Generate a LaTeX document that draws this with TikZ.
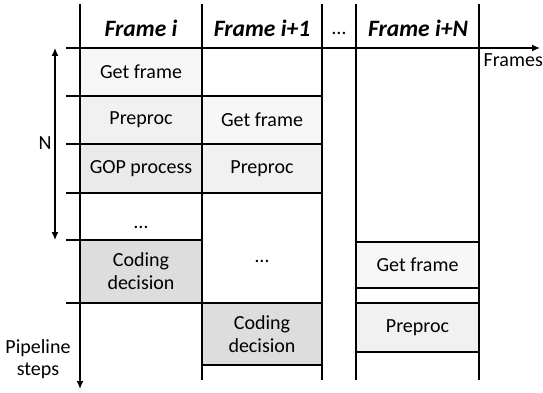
\documentclass[tikz,border=0pt]{standalone}
\usepackage{fontspec}
\setmainfont{Carlito}
\usetikzlibrary{arrows.meta}
\definecolor{getc}{HTML}{F7F7F7}
\definecolor{prec}{HTML}{F1F1F1}
\definecolor{gopc}{HTML}{EAEAEA}
\definecolor{codc}{HTML}{DDDDDD}
\tikzset{
  lin/.style={black,line width=1.4pt},
  ax/.style={-{Latex[length=8pt,width=7pt]},black,line width=1.4pt},
  dax/.style={{Latex[length=8pt,width=7pt]}-{Latex[length=8pt,width=7pt]},black,line width=1.2pt},
  stepbox/.style={inner sep=0pt,draw=none,align=center,font=\fontsize{20}{23}\selectfont},
  head/.style={inner sep=0pt,font=\fontsize{23.5}{26}\selectfont\bfseries\itshape},
  lab/.style={inner sep=0pt,align=center,font=\fontsize{20}{22}\selectfont},
}

\begin{document}
\begin{tikzpicture}[x=1pt,y=-1pt]
  \useasboundingbox (0,0) rectangle (543,393);
  % cells
  \node[stepbox,fill=getc,minimum width=122pt,minimum height=48pt] (get1) at (141,72) {Get frame};
  \node[stepbox,fill=prec,minimum width=122pt,minimum height=48pt] (pre1) at (141,120) {Preproc};
  \node[stepbox,fill=gopc,minimum width=122pt,minimum height=49pt] (gop1) at (141,168.5) {GOP process};
  \node[stepbox] (dots1) at (141,227) {…};
  \node[stepbox,fill=codc,minimum width=122pt,minimum height=63pt] (cod1) at (141,271.5) {Coding\\decision};
  \node[stepbox,fill=getc,minimum width=120pt,minimum height=48pt] (get2) at (262,120) {Get frame};
  \node[stepbox,fill=prec,minimum width=120pt,minimum height=49pt] (pre2) at (262,168.5) {Preproc};
  \node[stepbox] (dots2) at (262,261) {…};
  \node[stepbox,fill=codc,minimum width=120pt,minimum height=62pt] (cod2) at (262,334) {Coding\\decision};
  \node[stepbox,fill=getc,minimum width=123pt,minimum height=46pt] (getN) at (417.5,265) {Get frame};
  \node[stepbox,fill=prec,minimum width=123pt,minimum height=49pt] (preN) at (417.5,327.5) {Preproc};
  % header
  \node[head] (fri) at (141,28) {Frame i};
  \node[head] (frj) at (262,28) {Frame i+1};
  \node[lab] (frd) at (339,33) {…};
  \node[head] (frn) at (418,28) {Frame i+N};
  % grid
  \draw[lin] (202,4)--(202,380);
  \draw[lin] (322,4)--(322,380);
  \draw[lin] (356,4)--(356,380);
  \draw[lin] (479,4)--(479,380);
  \foreach \y in {96,144,193,303} \draw[lin] (66,\y)--(322,\y);
  \draw[lin] (66,240)--(202,240);
  \draw[lin] (202,365)--(322,365);
  \foreach \y in {242,288,303,352} \draw[lin] (356,\y)--(479,\y);
  % axes
  \draw[ax] (66,48)--(540,48) coordinate (fend);
  \draw[ax] (80,4)--(80,389) coordinate (pend);
  \node[lab,anchor=north east] (frames) at (543,53) {Frames};
  \node[lab] (pipe) at (38,359) {Pipeline\\steps};
  \coordinate (ntop) at (55,48);
  \coordinate (nbot) at (55,240);
  \draw[dax] (ntop)--(nbot);
  \node[lab] (nlab) at (45,143) {N};
\end{tikzpicture}
\end{document}
